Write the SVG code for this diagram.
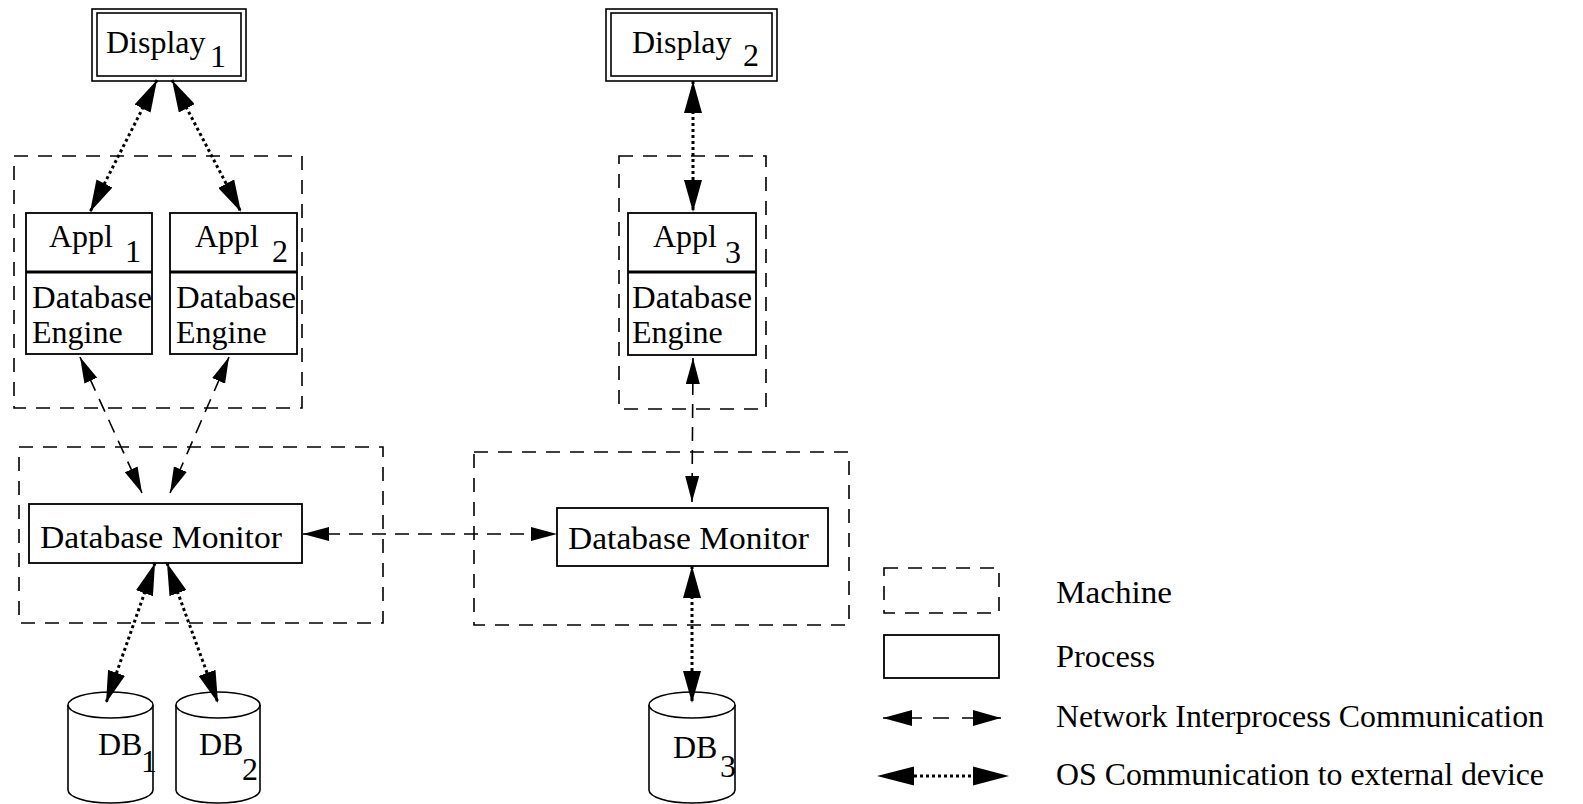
<svg xmlns="http://www.w3.org/2000/svg" width="1583" height="804" viewBox="0 0 1583 804">
<style>
text{font-family:"Liberation Serif","Times New Roman",serif;font-size:32px;fill:#000}
.machine{fill:none;stroke:#000;stroke-width:1.6;stroke-dasharray:14 10}
.proc{fill:#fff;stroke:#000;stroke-width:1.8}
.div{stroke:#000;stroke-width:2.8}
.os{fill:none;stroke:#000;stroke-width:3;stroke-dasharray:3 3;marker-start:url(#osH);marker-end:url(#osH)}
.net{fill:none;stroke:#000;stroke-width:1.6;stroke-dasharray:14 9;marker-start:url(#netH);marker-end:url(#netH)}
.cyl{fill:#fff;stroke:#000;stroke-width:1.6}
</style>
<defs>
<marker id="osH" markerUnits="userSpaceOnUse" viewBox="0 0 32 18" markerWidth="32" markerHeight="18" refX="32" refY="9" orient="auto-start-reverse"><path d="M0,0 L32,9 L0,18 Z" fill="#000"/></marker>
<marker id="netH" markerUnits="userSpaceOnUse" viewBox="0 0 26 14" markerWidth="26" markerHeight="14" refX="26" refY="7" orient="auto-start-reverse"><path d="M0,0 L26,7 L0,14 Z" fill="#000"/></marker>
</defs>
<rect width="1583" height="804" fill="#fff"/>

<g id="machine1"><rect class="machine" x="14" y="156" width="288" height="252"/></g>
<g id="machine2"><rect class="machine" x="19" y="447" width="364" height="176"/></g>
<g id="machine3"><rect class="machine" x="619" y="156" width="147" height="253"/></g>
<g id="machine4"><rect class="machine" x="474" y="452" width="375" height="173"/></g>

<g id="display1">
<rect x="92" y="9" width="154" height="72" fill="#fff" stroke="#000" stroke-width="1.6"/>
<rect x="97" y="13" width="144" height="63" fill="none" stroke="#000" stroke-width="1.6"/>
<text x="106" y="53">Display</text><text x="210" y="67">1</text>
</g>
<g id="display2">
<rect x="606" y="9" width="171" height="72" fill="#fff" stroke="#000" stroke-width="1.6"/>
<rect x="611" y="13" width="161" height="63" fill="none" stroke="#000" stroke-width="1.6"/>
<text x="632" y="53">Display</text><text x="743" y="66">2</text>
</g>

<g id="appl1">
<rect class="proc" x="26" y="213" width="126" height="141"/>
<line class="div" x1="26" y1="272" x2="152" y2="272"/>
<text x="49" y="247">Appl</text><text x="125" y="262">1</text>
<text x="32" y="308" textLength="120" lengthAdjust="spacingAndGlyphs">Database</text>
<text x="32" y="343">Engine</text>
</g>
<g id="appl2">
<rect class="proc" x="170" y="213" width="127" height="141"/>
<line class="div" x1="170" y1="272" x2="297" y2="272"/>
<text x="195" y="247">Appl</text><text x="272" y="262">2</text>
<text x="176" y="308" textLength="120" lengthAdjust="spacingAndGlyphs">Database</text>
<text x="176" y="343">Engine</text>
</g>
<g id="appl3">
<rect class="proc" x="628" y="213" width="128" height="142"/>
<line class="div" x1="628" y1="272" x2="756" y2="272"/>
<text x="653" y="247">Appl</text><text x="725" y="263">3</text>
<text x="632" y="308" textLength="120" lengthAdjust="spacingAndGlyphs">Database</text>
<text x="632" y="343">Engine</text>
</g>

<g id="monitor1">
<rect class="proc" x="29" y="504" width="273" height="59"/>
<text x="40" y="548" textLength="242" lengthAdjust="spacingAndGlyphs">Database Monitor</text>
</g>
<g id="monitor2">
<rect class="proc" x="557" y="508" width="271" height="58"/>
<text x="568" y="549" textLength="241" lengthAdjust="spacingAndGlyphs">Database Monitor</text>
</g>

<g id="db1">
<path class="cyl" d="M68,705 V790 A42.5,13 0 0 0 153,790 V705"/>
<ellipse class="cyl" cx="110.5" cy="705" rx="42.5" ry="13"/>
<text x="98" y="755">DB</text><text x="141" y="772">1</text>
</g>
<g id="db2">
<path class="cyl" d="M176,705 V790 A42,13 0 0 0 260,790 V705"/>
<ellipse class="cyl" cx="218" cy="705" rx="42" ry="13"/>
<text x="199" y="755">DB</text><text x="242" y="780">2</text>
</g>
<g id="db3">
<path class="cyl" d="M649,705 V790 A43,13 0 0 0 735,790 V705"/>
<ellipse class="cyl" cx="692" cy="705" rx="43" ry="13"/>
<text x="673" y="758">DB</text><text x="720" y="777">3</text>
</g>

<g id="connectors">
<line class="os" x1="157" y1="80" x2="90" y2="212"/>
<line class="os" x1="172" y1="80" x2="241" y2="212"/>
<line class="os" x1="693" y1="81" x2="693" y2="212"/>
<line class="os" x1="155" y1="563" x2="106" y2="703"/>
<line class="os" x1="167" y1="563" x2="218" y2="703"/>
<line class="os" x1="692" y1="566" x2="692" y2="703"/>
<line class="net" x1="80" y1="357" x2="142" y2="493"/>
<line class="net" x1="229" y1="357" x2="170" y2="493"/>
<line class="net" x1="693" y1="358" x2="692" y2="502"/>
<line class="net" x1="303" y1="534" x2="557" y2="534"/>
</g>

<g id="legend">
<rect class="machine" x="884" y="568" width="115" height="45"/>
<text x="1056" y="603" textLength="116" lengthAdjust="spacingAndGlyphs">Machine</text>
<rect class="proc" x="884" y="635" width="115" height="43"/>
<text x="1056" y="667" textLength="99" lengthAdjust="spacingAndGlyphs">Process</text>
<path d="M883,718 H922 M933,718 H949 M962,718 H1001" stroke="#000" stroke-width="1.6" fill="none"/>
<path d="M883,718 L912,710 L912,726 Z M1001,718 L973,710 L973,726 Z" fill="#000"/>
<text x="1056" y="727" textLength="488" lengthAdjust="spacingAndGlyphs">Network Interprocess Communication</text>
<line x1="914" y1="776" x2="973" y2="776" stroke="#000" stroke-width="3" stroke-dasharray="3 3"/>
<path d="M877,776 L914,766.5 L914,785.5 Z M1009,776 L973,766.5 L973,785.5 Z" fill="#000"/>
<text x="1056" y="785" textLength="488" lengthAdjust="spacingAndGlyphs">OS Communication to external device</text>
</g>
</svg>
